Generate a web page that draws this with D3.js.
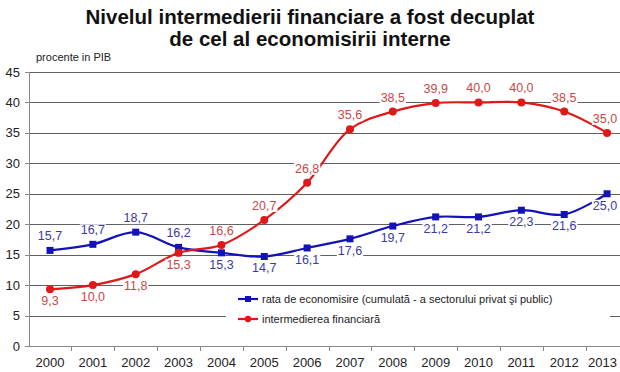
<!DOCTYPE html>
<meta charset="utf-8">
<style>
body {
  margin: 0;
  background: #fff;
  font-family: "Liberation Sans", Arial, sans-serif;
}
</style>
<body>
<script src="https://cdn.jsdelivr.net/npm/d3@7/dist/d3.min.js"></script>
<script>

var years = ["2000", "2001", "2002", "2003", "2004", "2005", "2006",
             "2007", "2008", "2009", "2010", "2011", "2012", "2013"];

// rata de economisire (cumulata - a sectorului privat si public)
var economisire = [15.7, 16.7, 18.7, 16.2, 15.3, 14.7, 16.1,
                   17.6, 19.7, 21.2, 21.2, 22.3, 21.6, 25.0];

// intermedierea financiara
var intermediere = [9.3, 10.0, 11.8, 15.3, 16.6, 20.7, 26.8,
                    35.6, 38.5, 39.9, 40.0, 40.0, 38.5, 35.0];

var yTicks = [0, 5, 10, 15, 20, 25, 30, 35, 40, 45];

var legendLabels = ["rata de economisire (cumulată - a sectorului privat şi public)",
                    "intermedierea financiară"];

var width = 620,
    height = 372;

var blue = "#1212b8",
    red = "#e01818",
    blueText = "#3a3aa0",
    redText = "#c84848";

var svg = d3.select("body").append("svg")
    .attr("width", width)
    .attr("height", height);

var x = d3.scaleBand()
    .domain(years)
    .range([28.6, 28.6 + 14 * 42.85]);

var y = d3.scaleLinear()
    .domain([0, 45])
    .range([346, 72]);

function cx(i) { return x(years[i]) + x.bandwidth() / 2; }

// title
var title = svg.append("text")
    .attr("text-anchor", "middle")
    .style("font-weight", "bold")
    .style("font-size", "20.5px")
    .style("fill", "#111");
title.append("tspan").attr("x", 310).attr("y", 24)
    .text("Nivelul intermedierii financiare a fost decuplat");
title.append("tspan").attr("x", 310).attr("y", 46)
    .text("de cel al economisirii interne");

svg.append("text")
    .attr("x", 36)
    .attr("y", 61)
    .style("font-size", "11px")
    .style("fill", "#222")
    .text("procente in PIB");

// gridlines
svg.append("g")
  .selectAll("line")
  .data(yTicks.filter(function(d) { return d > 0; }))
  .enter().append("line")
    .attr("x1", 29)
    .attr("x2", width)
    .attr("y1", function(d) { return Math.round(y(d)) + 0.5; })
    .attr("y2", function(d) { return Math.round(y(d)) + 0.5; })
    .style("stroke", "#606060")
    .style("stroke-width", 1);

// y axis
var yAxis = svg.append("g");
yAxis.append("line")
    .attr("x1", 29.5).attr("x2", 29.5)
    .attr("y1", y(45)).attr("y2", y(0))
    .style("stroke", "#888");
yAxis.selectAll(".ytick")
    .data(yTicks)
  .enter().append("line")
    .attr("x1", 25).attr("x2", 29.5)
    .attr("y1", function(d) { return Math.round(y(d)) + 0.5; })
    .attr("y2", function(d) { return Math.round(y(d)) + 0.5; })
    .style("stroke", "#888");
yAxis.selectAll("text")
    .data(yTicks)
  .enter().append("text")
    .attr("x", 20)
    .attr("y", function(d) { return y(d) + 4.5; })
    .attr("text-anchor", "end")
    .style("font-size", "13px")
    .style("fill", "#222")
    .text(function(d) { return d; });

// x axis
var xAxis = svg.append("g");
xAxis.append("line")
    .attr("x1", 29).attr("x2", width)
    .attr("y1", Math.round(y(0)) + 0.5).attr("y2", Math.round(y(0)) + 0.5)
    .style("stroke", "#888");
xAxis.selectAll(".xtick")
    .data(years.slice(1))
  .enter().append("line")
    .attr("x1", function(d) { return Math.round(x(d)) + 0.5; })
    .attr("x2", function(d) { return Math.round(x(d)) + 0.5; })
    .attr("y1", y(0)).attr("y2", y(0) + 5)
    .style("stroke", "#888");
xAxis.selectAll("text")
    .data(years)
  .enter().append("text")
    .attr("x", function(d, i) { return i === years.length - 1 ? width - 3 : cx(i); })
    .attr("y", 367)
    .attr("text-anchor", function(d, i) { return i === years.length - 1 ? "end" : "middle"; })
    .style("font-size", "13px")
    .style("fill", "#222")
    .text(function(d) { return d; });

// legend box (white, hides gridlines)
svg.append("rect")
    .attr("x", 226)
    .attr("y", 289)
    .attr("width", 384)
    .attr("height", 42)
    .style("fill", "#fff");

// lines
var line = d3.line()
    .x(function(d, i) { return cx(i); })
    .y(function(d) { return y(d); })
    .curve(d3.curveCatmullRom.alpha(0.5));

svg.append("path")
    .datum(economisire)
    .attr("d", line)
    .style("fill", "none")
    .style("stroke", blue)
    .style("stroke-width", 2.2);

svg.append("path")
    .datum(intermediere)
    .attr("d", line)
    .style("fill", "none")
    .style("stroke", red)
    .style("stroke-width", 2.2);

svg.append("g").selectAll("rect")
    .data(economisire)
  .enter().append("rect")
    .attr("x", function(d, i) { return cx(i) - 3.5; })
    .attr("y", function(d) { return y(d) - 3.5; })
    .attr("width", 7)
    .attr("height", 7)
    .style("fill", blue);

svg.append("g").selectAll("circle")
    .data(intermediere)
  .enter().append("circle")
    .attr("cx", function(d, i) { return cx(i); })
    .attr("cy", function(d) { return y(d); })
    .attr("r", 4)
    .style("fill", red);

// data labels: the higher series gets its label above, the other below
function fmt(v) { return v.toFixed(1).replace(".", ","); }

function labels(values, other, color) {
  var g = svg.append("g");
  values.forEach(function(v, i) {
    var above = v > other[i];
    var px = cx(i);
    if (i === values.length - 1) px = Math.min(px, width - 15);
    var ty = above ? y(v) - 10 : y(v) + 16;
    var bg = g.append("rect").style("fill", "#fff");
    var t = g.append("text")
        .attr("x", px)
        .attr("y", ty)
        .attr("text-anchor", "middle")
        .style("font-size", "12.5px")
        .style("fill", color)
        .text(fmt(v));
    var bb = t.node().getBBox();
    bg.attr("x", bb.x - 1).attr("y", bb.y + 1)
      .attr("width", bb.width + 2).attr("height", bb.height - 2);
  });
}

labels(economisire, intermediere, blueText);
labels(intermediere, economisire, redText);

// legend entries
var legend = svg.append("g");
[[blue, "square"], [red, "circle"]].forEach(function(s, i) {
  var ly = 299 + i * 20;
  legend.append("line")
      .attr("x1", 238).attr("x2", 258)
      .attr("y1", ly).attr("y2", ly)
      .style("stroke", s[0])
      .style("stroke-width", 2.2);
  if (s[1] === "square") {
    legend.append("rect")
        .attr("x", 245).attr("y", ly - 3)
        .attr("width", 6).attr("height", 6)
        .style("fill", s[0]);
  } else {
    legend.append("circle")
        .attr("cx", 248).attr("cy", ly)
        .attr("r", 3.2)
        .style("fill", s[0]);
  }
  legend.append("text")
      .attr("x", 262)
      .attr("y", ly + 4)
      .style("font-size", "11px")
      .style("fill", "#222")
      .text(legendLabels[i]);
});

</script>
